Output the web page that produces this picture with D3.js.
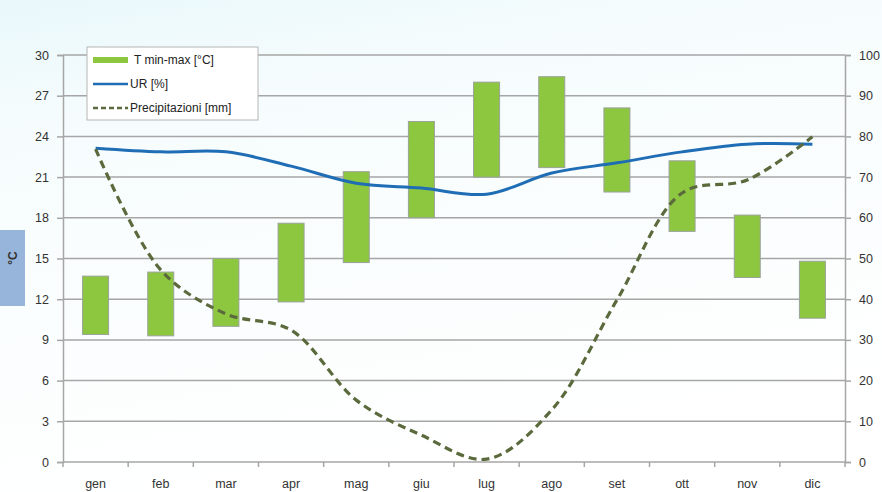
<!DOCTYPE html>
<html>
<head>
<meta charset="utf-8">
<script src="https://cdn.jsdelivr.net/npm/d3@7"></script>
<style>
  html, body { margin: 0; padding: 0; }
  body { width: 882px; height: 492px; overflow: hidden; }
  svg { display: block; font-family: "Liberation Sans", Arial, sans-serif; }
</style>
</head>
<body>
<svg id="chart" width="882" height="492"></svg>
<script>
// Monthly climate data
const months = ["gen","feb","mar","apr","mag","giu","lug","ago","set","ott","nov","dic"];
const tMin = [9.4, 9.3, 10.0, 11.8, 14.7, 18.0, 21.0, 21.7, 19.9, 17.0, 13.6, 10.6];
const tMax = [13.7, 14.0, 15.0, 17.6, 21.4, 25.1, 28.0, 28.4, 26.1, 22.2, 18.2, 14.8];
const ur = [77.1, 76.2, 76.2, 72.7, 68.5, 67.3, 65.8, 71.0, 73.5, 76.2, 78.1, 78.1];
const precip = [76.9, 47.2, 36.4, 32.4, 15.2, 6.6, 0.7, 12.8, 39.8, 66.1, 69.3, 79.9];
const leftTicks = [0, 3, 6, 9, 12, 15, 18, 21, 24, 27, 30];
const rightTicks = [0, 10, 20, 30, 40, 50, 60, 70, 80, 90, 100];

const svg = d3.select("#chart");
const W = 882, H = 492;
const m = { left: 63, right: 37, top: 55, bottom: 30 };
const plotR = W - m.right, plotB = H - m.bottom;

// background wash
const defs = svg.append("defs");
const bg = defs.append("linearGradient").attr("id", "bg").attr("x1", 0).attr("y1", 0).attr("x2", 0.3).attr("y2", 1);
bg.append("stop").attr("offset", "0%").attr("stop-color", "#e9f8fb");
bg.append("stop").attr("offset", "25%").attr("stop-color", "#f6fcfd");
bg.append("stop").attr("offset", "100%").attr("stop-color", "#ffffff");
svg.append("rect").attr("width", W).attr("height", H).attr("fill", "url(#bg)");

const x = d3.scaleBand().domain(months).range([m.left, plotR]);
const yL = d3.scaleLinear().domain([0, 30]).range([plotB, m.top]);
const yR = d3.scaleLinear().domain([0, 100]).range([plotB, m.top]);

const gridColor = "#a6a6a6";

// horizontal gridlines
svg.append("g").selectAll("line").data(leftTicks.filter(d => d > 0)).join("line")
  .attr("x1", m.left).attr("x2", plotR)
  .attr("y1", d => yL(d)).attr("y2", d => yL(d))
  .attr("stroke", gridColor).attr("stroke-width", 1.5);

// left axis
const gL = svg.append("g").attr("transform", `translate(${m.left},0)`)
  .call(d3.axisLeft(yL).tickValues(leftTicks).tickSize(6).tickPadding(8));
// right axis
const gR = svg.append("g").attr("transform", `translate(${plotR},0)`)
  .call(d3.axisRight(yR).tickValues(rightTicks).tickSize(6).tickPadding(8));
[gL, gR].forEach(g => {
  g.select(".domain").attr("stroke", gridColor).attr("stroke-width", 1.5);
  g.selectAll(".tick line").attr("stroke", gridColor).attr("stroke-width", 1.5);
  g.selectAll(".tick text").attr("fill", "#333").attr("font-size", 12.5)
    .attr("font-family", "Liberation Sans, Arial, sans-serif");
});

// bottom axis with ticks between categories
const gB = svg.append("g").attr("transform", `translate(0,${plotB})`);
gB.append("line").attr("x1", m.left).attr("x2", plotR).attr("y1", 0).attr("y2", 0)
  .attr("stroke", gridColor).attr("stroke-width", 1.5);
gB.selectAll("line.tk").data(months.concat(["end"])).join("line").attr("class", "tk")
  .attr("x1", (d, i) => i < months.length ? x(d) : plotR)
  .attr("x2", (d, i) => i < months.length ? x(d) : plotR)
  .attr("y1", 0).attr("y2", 5)
  .attr("stroke", gridColor).attr("stroke-width", 1.5);
gB.selectAll("text").data(months).join("text")
  .attr("x", d => x(d) + x.bandwidth() / 2).attr("y", 26)
  .attr("text-anchor", "middle").attr("fill", "#333").attr("font-size", 12.5)
  .text(d => d);

// temperature range bars
const barW = 26;
svg.append("g").selectAll("rect").data(months).join("rect")
  .attr("x", d => x(d) + x.bandwidth() / 2 - barW / 2)
  .attr("width", barW)
  .attr("y", (d, i) => yL(tMax[i]))
  .attr("height", (d, i) => yL(tMin[i]) - yL(tMax[i]))
  .attr("fill", "#8dc63f").attr("stroke", "#9aa39a").attr("stroke-width", 1);

const cx = d => x(d) + x.bandwidth() / 2;

// relative humidity
svg.append("path")
  .attr("d", d3.line().x((d, i) => cx(months[i])).y(d => yR(d)).curve(d3.curveCatmullRom.alpha(0.5))(ur))
  .attr("fill", "none").attr("stroke", "#1f6db5").attr("stroke-width", 3);

// precipitation
svg.append("path")
  .attr("d", d3.line().x((d, i) => cx(months[i])).y(d => yR(d)).curve(d3.curveCatmullRom.alpha(0.5))(precip))
  .attr("fill", "none").attr("stroke", "#5b6a3c").attr("stroke-width", 3.2)
  .attr("stroke-dasharray", "8,5");

// legend
const lg = svg.append("g").attr("transform", "translate(87,47)");
lg.append("rect").attr("width", 171).attr("height", 73)
  .attr("fill", "#ffffff").attr("stroke", "#b5b5b5").attr("stroke-width", 1);
lg.append("rect").attr("x", 6).attr("y", 10).attr("width", 35).attr("height", 6).attr("fill", "#8dc63f");
lg.append("line").attr("x1", 6).attr("x2", 41).attr("y1", 37).attr("y2", 37)
  .attr("stroke", "#1f6db5").attr("stroke-width", 2.5);
lg.append("line").attr("x1", 6).attr("x2", 41).attr("y1", 61).attr("y2", 61)
  .attr("stroke", "#5b6a3c").attr("stroke-width", 2.5).attr("stroke-dasharray", "5,3");
const legendLabels = ["T min-max [°C]", "UR [%]", "Precipitazioni [mm]"];
lg.selectAll("text").data(legendLabels).join("text")
  .attr("x", (d, i) => i === 0 ? 47 : 43).attr("y", (d, i) => 17 + i * 24)
  .attr("font-size", 12).attr("fill", "#222").text(d => d);

// unit tab on the left
svg.append("rect").attr("x", 0).attr("y", 230).attr("width", 25).attr("height", 76).attr("fill", "#97b5da");
svg.append("text").attr("transform", "translate(17,258) rotate(-90)")
  .attr("text-anchor", "middle").attr("font-size", 12).attr("font-weight", "bold")
  .attr("fill", "#333").text("°C");
</script>
</body>
</html>
